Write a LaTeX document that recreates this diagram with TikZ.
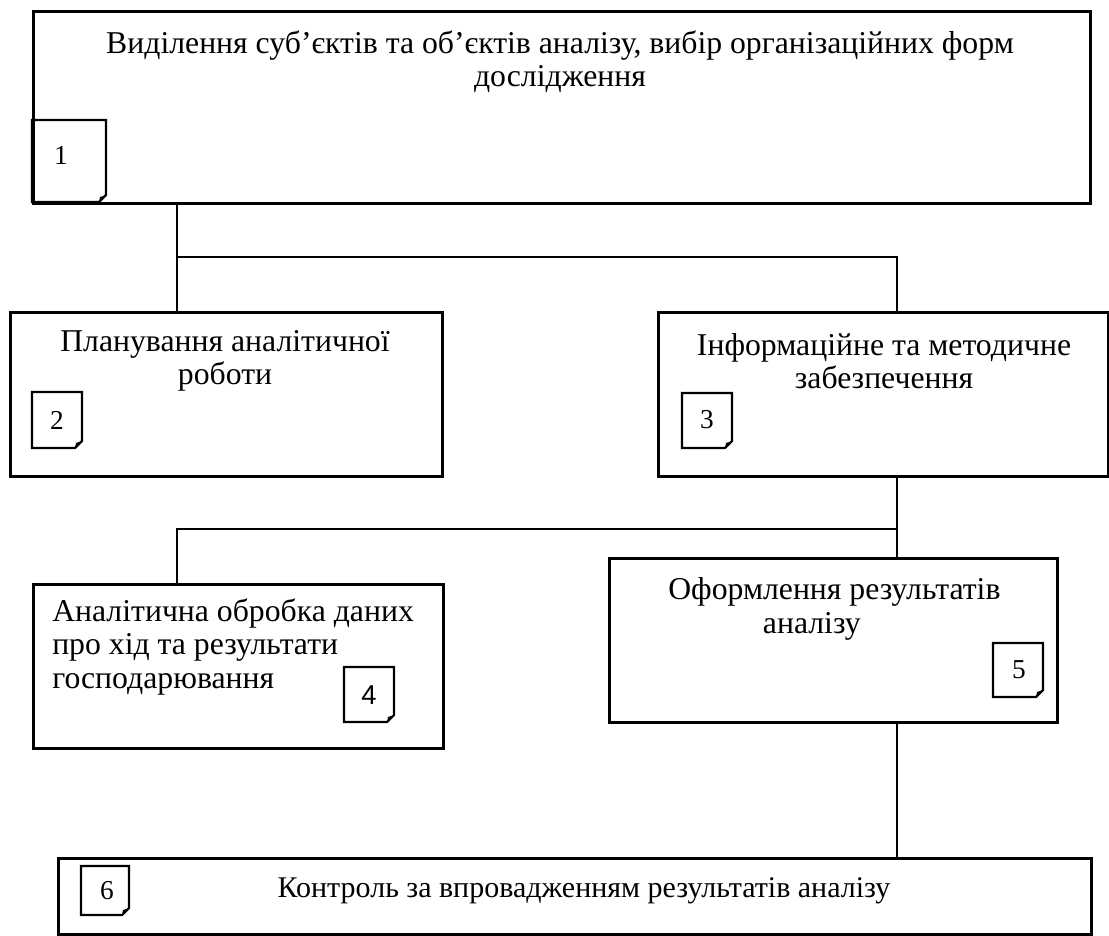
\documentclass[tikz,border=0pt]{standalone}
\usepackage{fontspec}
\setmainfont{Liberation Serif}
\newfontfamily\digitsans{Liberation Sans}
\begin{document}
\begin{tikzpicture}[x=0.75pt,y=-0.75pt,
  box/.style={draw,line width=2pt,rectangle,anchor=north west,inner sep=0pt},
  conn/.style={line width=1.6pt},
  lbl/.style={font=\fontsize{23.8}{25}\selectfont,inner sep=0pt},
  num/.style={font=\fontsize{20.5}{22}\selectfont,inner sep=0pt},
  noteline/.style={line width=1.6pt,line join=miter}]
\useasboundingbox (0,0) rectangle (1109,935);
\newcommand\numnote[8]{%
  \node[num] (#1) at (#7,#8) {#2};
  \draw[noteline] (#3,#4) -- (#5,#4) -- (#5,#6-7) -- (#5-7,#6) -- (#3,#6) -- cycle;
  \fill (#5,#6-7) -- (#5-7,#6) -- (#5-6,#6-5) -- cycle;}
% boxes
\node[box,minimum width=792.75pt,minimum height=144pt] (b1) at (32,10) {};
\node[box,minimum width=324pt,minimum height=123pt] (b2) at (9,311) {};
\node[box,minimum width=337.5pt,minimum height=123pt] (b3) at (657,311) {};
\node[box,minimum width=307.5pt,minimum height=123pt] (b4) at (32,583) {};
\node[box,minimum width=336pt,minimum height=123pt] (b5) at (608,557) {};
\node[box,minimum width=775pt,minimum height=57pt] (b6) at (57,857) {};
% texts
\node[lbl,align=center] (t1) at (560,62) {Виділення суб’єктів та об’єктів аналізу, вибір організаційних форм\\дослідження};
\node[lbl,align=center] (t2) at (225,361) {Планування аналітичної\\роботи};
\node[lbl,align=center] (t3) at (884,361) {Інформаційне та методичне\\забезпечення};
\node[lbl,align=left,anchor=west] (t4) at (52,647) {Аналітична обробка даних\\про хід та результати\\господарювання};
\node[lbl,align=left,anchor=west] (t5) at (668,609) {Оформлення результатів\\\hspace*{71pt}аналізу};
\node[lbl,font=\fontsize{22.5}{25}\selectfont] (t6) at (584,891) {Контроль за впровадженням результатів аналізу};
% number notes
\numnote{n1}{1}{32}{120}{106}{202}{61}{155}
\numnote{n2}{2}{32}{392}{82}{448}{57}{420}
\numnote{n3}{3}{682}{393}{732}{448}{707}{420}
\numnote{n4}{\digitsans 4}{344}{667}{394}{722}{369}{695}
\numnote{n5}{5}{993}{643}{1043}{697}{1019}{670}
\numnote{n6}{6}{81}{866}{129}{915}{107}{891}
% connectors
\coordinate (j1) at (177,257);
\coordinate (j1r) at (897,257);
\coordinate (j2) at (897,529);
\coordinate (j2l) at (177,529);
\draw[conn] (b1.south -| j1) -- (b2.north -| j1);
\draw[conn] (j1) -- (j1r) -- (b3.north -| j1r);
\draw[conn] (b3.south -| j2) -- (b5.north -| j2);
\draw[conn] (j2) -- (j2l) -- (b4.north -| j2l);
\draw[conn] (b5.south -| j2) -- (b6.north -| j2);
\end{tikzpicture}
\end{document}
